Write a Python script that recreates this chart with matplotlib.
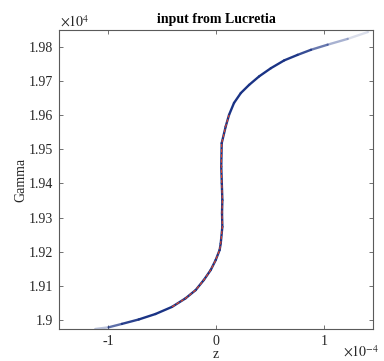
import matplotlib
matplotlib.use("Agg")
import matplotlib.pyplot as plt
from matplotlib.collections import LineCollection
from matplotlib.ticker import FixedLocator, FuncFormatter
import numpy as np

# Longitudinal phase space: z [1e-4 m] vs. Lorentz factor
z_e4 = [-1.119, -0.995, -0.872, -0.716, -0.561, -0.407, -0.282, -0.189,
        -0.112, -0.049, -0.003, 0.034, 0.044, 0.059, 0.056, 0.059, 0.054,
        0.049, 0.053, 0.090, 0.121, 0.167, 0.230, 0.307, 0.400, 0.509,
        0.633, 0.756, 0.881, 1.035, 1.221, 1.407, 1.454]
gamma = [18973, 18978, 18988, 19001, 19017, 19038, 19063, 19087,
         19117, 19146, 19175, 19205, 19224, 19273, 19313, 19351, 19401,
         19449, 19518, 19567, 19601, 19636, 19665, 19689, 19714, 19738,
         19761, 19777, 19792, 19807, 19824, 19844, 19851]
# particle density along the trace (0 = empty, 1 = densest)
density = [0.05, 0.55, 0.85, 1.0, 1.0, 1.0, 1.0, 1.0,
           1.0, 1.0, 1.0, 1.0, 1.0, 1.0, 1.0, 1.0, 1.0,
           1.0, 1.0, 1.0, 1.0, 1.0, 1.0, 1.0, 1.0, 1.0,
           1.0, 0.95, 0.8, 0.5, 0.25, 0.06, 0.02]
# indices of the high-density core
core_start, core_end = 5, 20

x_ticks_e4 = [-1, 0, 1]
y_ticks_e4 = [1.90, 1.91, 1.92, 1.93, 1.94, 1.95, 1.96, 1.97, 1.98]
x_range_e4 = (-1.455, 1.455)
y_range = (18973, 19850)

serif = ["Liberation Serif", "DejaVu Serif"]
plt.rcParams["font.family"] = serif
plt.rcParams["font.size"] = 10

fig = plt.figure(figsize=(3.84, 3.61), dpi=100)
ax = fig.add_axes([0.1536, 0.0886, 0.8177, 0.8283])

z = np.array(z_e4) * 1e-4
g = np.array(gamma, dtype=float)
pts = np.column_stack([z, g])
segs = np.stack([pts[:-1], pts[1:]], axis=1)
w = np.array(density)
seg_alpha = 0.5 * (w[:-1] + w[1:])
navy = np.array([0.10, 0.20, 0.52])
colors = [(*navy, a) for a in seg_alpha]
lc = LineCollection(segs, colors=colors, linewidths=1.7, capstyle="round",
                    joinstyle="round")
ax.add_collection(lc)

# dense core shown in red
ax.plot(z[core_start:core_end + 1], g[core_start:core_end + 1],
        color="#e0462a", lw=0.8, ls=(0, (3, 1.6)), solid_capstyle="butt")

ax.set_xlim(x_range_e4[0] * 1e-4, x_range_e4[1] * 1e-4)
ax.set_ylim(*y_range)

ax.xaxis.set_major_locator(FixedLocator([v * 1e-4 for v in x_ticks_e4]))
ax.yaxis.set_major_locator(FixedLocator([v * 1e4 for v in y_ticks_e4]))
ax.xaxis.set_major_formatter(FuncFormatter(lambda v, p: "%g" % round(v / 1e-4, 6)))
ax.yaxis.set_major_formatter(FuncFormatter(lambda v, p: "%g" % round(v / 1e4, 6)))

tick_col = "#262626"
for s in ax.spines.values():
    s.set_color("#5a5a5a")
    s.set_linewidth(0.8)
ax.tick_params(direction="in", length=3, width=0.6, color="#5a5a5a",
               top=True, right=True, labelcolor=tick_col, labelsize=10, pad=4)

ax.set_xlabel("z", color=tick_col, fontsize=10, labelpad=0)
ax.set_ylabel("Gamma", color=tick_col, fontsize=10, labelpad=1)
ax.set_title("input from Lucretia", fontsize=10, fontweight="bold",
             color="black", pad=5)

fig.text(60 / 384, 1 - 22 / 361, r"$\times10^{4}$", color=tick_col,
         fontsize=10, ha="left", va="center", family=serif,
         math_fontfamily="stix")
fig.text(343 / 384, 1 - 360 / 361, r"$\times10^{-4}$", color=tick_col,
         fontsize=10, ha="left", va="bottom", family=serif,
         math_fontfamily="stix")

fig.savefig("out.png", dpi=100)
